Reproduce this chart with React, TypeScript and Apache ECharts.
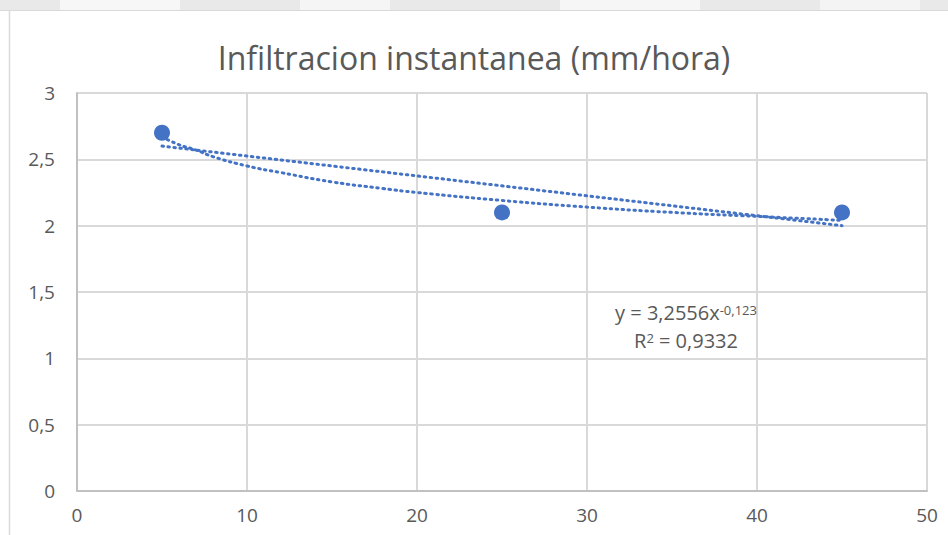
import React, { useEffect, useRef } from "react";
import * as echarts from "echarts";

const title = "Infiltracion instantanea (mm/hora)";
const xTicks = [0, 10, 20, 30, 40, 50];
const yTicks = [0, 0.5, 1, 1.5, 2, 2.5, 3];
const observed: [number, number][] = [
  [5, 2.7],
  [25, 2.1],
  [45, 2.1],
];
// Trend lines
const linearTrend: [number, number][] = [
  [5, 2.6],
  [45, 2.0],
];
const powerTrend: [number, number][] = [
  [5, 2.67],
  [6, 2.61],
  [7, 2.57],
  [8, 2.52],
  [10, 2.45],
  [12, 2.4],
  [15, 2.33],
  [18, 2.28],
  [20, 2.25],
  [25, 2.19],
  [30, 2.14],
  [35, 2.1],
  [40, 2.07],
  [45, 2.04],
];
const equationLines = ["y = 3,2556x{sup|-0,123}", "R{sup|2} = 0,9332"];

const fmt = (v: number) => String(v).replace(".", ",");

export default function App() {
  const ref = useRef<HTMLDivElement>(null);
  useEffect(() => {
    if (!ref.current) return;
    const chart = echarts.init(ref.current, undefined, { renderer: "svg" });
    const color = "#4472C4";
    const textColor = "#595959";
    const font = "'Open Sans', 'Noto Sans', sans-serif";
    chart.setOption({
      animation: false,
      backgroundColor: "#ffffff",
      title: {
        text: title,
        left: "center",
        top: 36,
        textStyle: { color: textColor, fontSize: 32, fontWeight: "normal", fontFamily: font },
      },
      grid: { left: 77, right: 21, top: 93, bottom: 44 },
      xAxis: {
        type: "value",
        min: 0,
        max: 50,
        interval: 10,
        axisLine: { show: true, onZero: false, lineStyle: { color: "#c0c0c0", width: 2 } },
        axisTick: { show: false },
        splitLine: { show: true, lineStyle: { color: "#d9d9d9", width: 2 } },
        axisLabel: {
          color: textColor,
          fontSize: 19,
          fontFamily: font,
          margin: 14,
          formatter: (v: number) => (xTicks.includes(v) ? fmt(v) : ""),
        },
      },
      yAxis: {
        type: "value",
        min: 0,
        max: 3,
        interval: 0.5,
        axisLine: { show: true, lineStyle: { color: "#c0c0c0", width: 2 } },
        axisTick: { show: false },
        splitLine: { show: true, lineStyle: { color: "#d9d9d9", width: 2 } },
        axisLabel: {
          color: textColor,
          fontSize: 19,
          fontFamily: font,
          margin: 22,
          formatter: (v: number) => (yTicks.includes(v) ? fmt(v) : ""),
        },
      },
      series: [
        {
          type: "line",
          data: linearTrend,
          symbol: "none",
          smooth: false,
          lineStyle: { color, width: 3, type: [1.5, 4.5], cap: "round" },
          z: 2,
        },
        {
          type: "line",
          data: powerTrend,
          symbol: "none",
          smooth: true,
          lineStyle: { color, width: 3, type: [1.5, 4.5], cap: "round" },
          z: 2,
        },
        {
          type: "scatter",
          data: observed,
          symbolSize: 16,
          itemStyle: { color, opacity: 1 },
          z: 3,
        },
      ],
      graphic: [
        { type: "rect", shape: { x: 0, y: 0, width: 948, height: 10 }, style: { fill: "#e9e9e9" }, silent: true },
        { type: "rect", shape: { x: 60, y: 0, width: 120, height: 10 }, style: { fill: "#f7f7f7" }, silent: true },
        { type: "rect", shape: { x: 300, y: 0, width: 90, height: 10 }, style: { fill: "#f5f5f5" }, silent: true },
        { type: "rect", shape: { x: 560, y: 0, width: 140, height: 10 }, style: { fill: "#f6f6f6" }, silent: true },
        { type: "rect", shape: { x: 820, y: 0, width: 100, height: 10 }, style: { fill: "#f4f4f4" }, silent: true },
        { type: "line", shape: { x1: 0, y1: 10.5, x2: 948, y2: 10.5 }, style: { stroke: "#d9d9d9", lineWidth: 1 }, silent: true },
        { type: "line", shape: { x1: 9.5, y1: 10, x2: 9.5, y2: 535 }, style: { stroke: "#d9d9d9", lineWidth: 1.5 }, silent: true },
        {
          type: "text",
          x: 686,
          y: 298,
          style: {
            text: equationLines.join("\n"),
            align: "center",
            fill: textColor,
            fontSize: 20,
            fontFamily: font,
            lineHeight: 28,
            rich: {
              sup: { fontSize: 13, fill: textColor, fontFamily: font, padding: [0, 0, 5, 0] },
            },
          },
          z: 10,
        },
      ],
    });
    return () => chart.dispose();
  }, []);
  return (
    <div
      ref={ref}
      style={{ position: "fixed", left: 0, top: 0, width: 948, height: 535 }}
    />
  );
}
